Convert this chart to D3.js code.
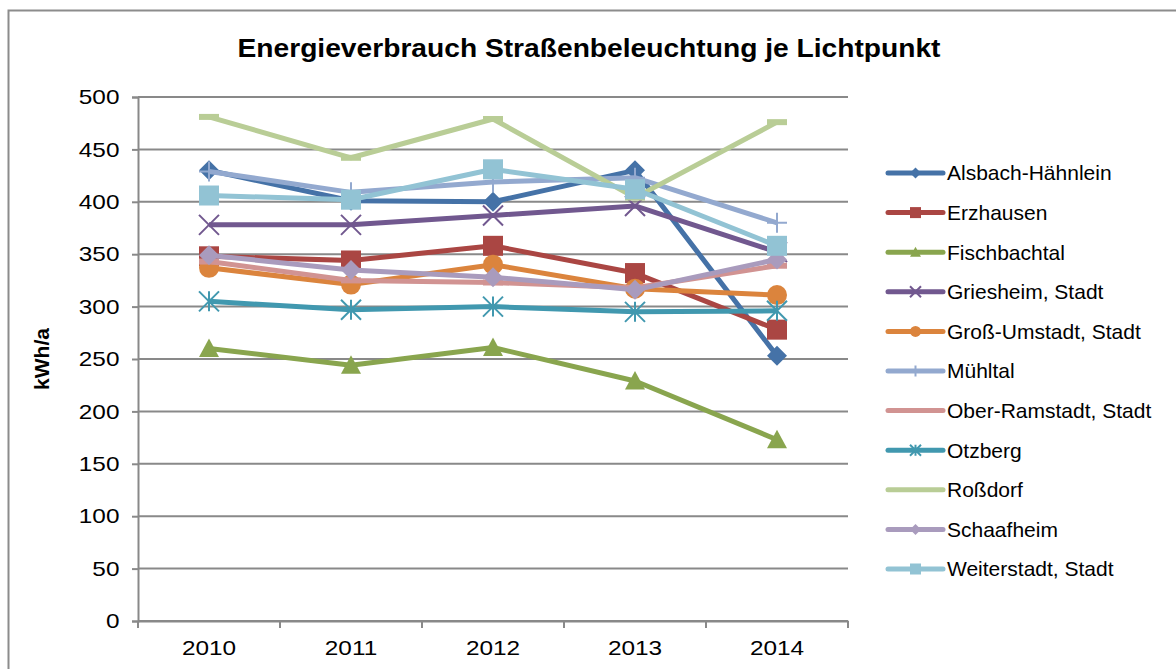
<!DOCTYPE html>
<meta charset="utf-8">
<style>
  body { margin: 0; background: #fff; }
  text { font-family: "Liberation Sans", Arial, sans-serif; fill: #000; }
</style>
<body>
<svg width="1176" height="669"></svg>
<script src="https://d3js.org/d3.v7.min.js"></script>
<script>

// the numbers
var years = ["2010", "2011", "2012", "2013", "2014"];
var names = ["Alsbach-Hähnlein", "Erzhausen", "Fischbachtal", "Griesheim, Stadt",
  "Groß-Umstadt, Stadt", "Mühltal", "Ober-Ramstadt, Stadt", "Otzberg", "Roßdorf",
  "Schaafheim", "Weiterstadt, Stadt"];
var alsbach     = [430, 401, 400, 430, 253];
var erzhausen   = [348, 344, 358, 332, 278];
var fischbach   = [260, 244, 261, 229, 173];
var griesheim   = [378, 378, 387, 396, 352];
var grossUmst   = [337, 321, 340, 317, 311];
var muehltal    = [429, 409, 419, 423, 380];
var oberRamst   = [343, 325, 323, 318, 339];
var otzberg     = [305, 297, 300, 295, 296];
var rossdorf    = [481, 442, 479, 404, 476];
var schaafheim  = [349, 335, 328, 316, 345];
var weiterstadt = [406, 402, 431, 412, 358];
var yTicks = [0, 50, 100, 150, 200, 250, 300, 350, 400, 450, 500];

var seriesValues = [alsbach, erzhausen, fischbach, griesheim, grossUmst, muehltal,
  oberRamst, otzberg, rossdorf, schaafheim, weiterstadt];
var colors = ["#4572a7", "#aa4643", "#89a54e", "#71588f", "#db843d", "#93a9cf",
  "#d19392", "#4198af", "#b9cd96", "#a99bbd", "#92c3d4"];
var markers = ["diamond", "square", "triangle", "x", "circle", "plus",
  "dash", "star", "dash", "diamond", "square"];

var svg = d3.select("svg");

// outer chart frame (runs off the right and bottom edge)
svg.append("rect")
  .attr("x", 8.5).attr("y", 10.5)
  .attr("width", 1200).attr("height", 700)
  .attr("fill", "none").attr("stroke", "#8c8c8c").attr("stroke-width", 2);

// plot box ("top" is taken by window.top, so other names)
var pLeft = 138, pRight = 848, pTop = 97, pBottom = 621;

var x = d3.scaleBand().domain(years).range([pLeft, pRight]);
var y = d3.scaleLinear().domain([0, 500]).range([pBottom, pTop]);

// gridlines
svg.append("g").selectAll("line")
  .data(yTicks)
  .join("line")
  .attr("x1", pLeft).attr("x2", pRight)
  .attr("y1", function(d) { return y(d); }).attr("y2", function(d) { return y(d); })
  .attr("stroke", "#898989").attr("stroke-width", 2);

// y axis
var yAxis = svg.append("g")
  .attr("transform", "translate(" + pLeft + ",0)")
  .call(d3.axisLeft(y).tickValues(yTicks).tickSize(6).tickPadding(10));
yAxis.select(".domain").attr("stroke", "#898989").attr("stroke-width", 2);
yAxis.selectAll(".tick line").attr("stroke", "#898989").attr("stroke-width", 2);
// the labels in the picture are a bit wide, so stretch them sideways
yAxis.selectAll("text").style("font-size", "21px").attr("font-family", null)
  .attr("transform", "scale(1.16,1)");

// x axis, ticks sit on the category borders
var xAxis = svg.append("g")
  .attr("transform", "translate(0," + pBottom + ")")
  .call(d3.axisBottom(x).tickSize(0).tickPadding(19));
xAxis.select(".domain").attr("stroke", "#898989").attr("stroke-width", 2);
xAxis.selectAll("text").style("font-size", "21px").attr("font-family", null)
  .attr("transform", "scale(1.16,1)");
xAxis.selectAll(".border")
  .data(years.concat([null]))
  .join("line")
  .attr("class", "border")
  .attr("x1", function(d, i) { return pLeft + i * x.step(); })
  .attr("x2", function(d, i) { return pLeft + i * x.step(); })
  .attr("y1", 0).attr("y2", 7)
  .attr("stroke", "#898989").attr("stroke-width", 2);

// title and axis title
svg.append("text")
  .attr("x", 589).attr("y", 57)
  .attr("text-anchor", "middle")
  .attr("textLength", 703).attr("lengthAdjust", "spacingAndGlyphs")
  .style("font-size", "25px").style("font-weight", "bold")
  .text("Energieverbrauch Straßenbeleuchtung je Lichtpunkt");

svg.append("text")
  .attr("transform", "translate(42," + (pTop + pBottom) / 2 + ") rotate(-90)")
  .attr("text-anchor", "middle")
  .attr("dy", "0.35em")
  .attr("textLength", 62).attr("lengthAdjust", "spacingAndGlyphs")
  .style("font-size", "21px").style("font-weight", "bold")
  .text("kWh/a");

// draws one marker centred on 0,0
function drawMarker(g, kind, color, s) {
  var h = s / 2;
  if (kind == "diamond") {
    g.append("path").attr("d", "M0," + (-h) + "L" + h + ",0L0," + h + "L" + (-h) + ",0Z").attr("fill", color);
  } else if (kind == "square") {
    g.append("rect").attr("x", -h).attr("y", -h).attr("width", s).attr("height", s).attr("fill", color);
  } else if (kind == "triangle") {
    g.append("path").attr("d", "M0," + (-h) + "L" + h + "," + (h * 0.85) + "L" + (-h) + "," + (h * 0.85) + "Z").attr("fill", color);
  } else if (kind == "circle") {
    g.append("circle").attr("r", h).attr("fill", color);
  } else if (kind == "x") {
    g.append("path").attr("d", "M" + (-h) + "," + (-h) + "L" + h + "," + h + "M" + (-h) + "," + h + "L" + h + "," + (-h))
      .attr("stroke", color).attr("stroke-width", 2).attr("fill", "none");
  } else if (kind == "plus") {
    g.append("path").attr("d", "M0," + (-h) + "V" + h + "M" + (-h) + ",0H" + h)
      .attr("stroke", color).attr("stroke-width", 2).attr("fill", "none");
  } else if (kind == "star") {
    g.append("path").attr("d", "M" + (-h) + "," + (-h) + "L" + h + "," + h + "M" + (-h) + "," + h + "L" + h + "," + (-h) + "M0," + (-h) + "V" + h)
      .attr("stroke", color).attr("stroke-width", 2).attr("fill", "none");
  } else if (kind == "dash") {
    g.append("rect").attr("x", -h).attr("y", -3).attr("width", s).attr("height", 6).attr("fill", color);
  }
}

var line = d3.line()
  .x(function(d, i) { return x(years[i]) + x.bandwidth() / 2; })
  .y(function(d) { return y(d); });

var plot = svg.append("g");
seriesValues.forEach(function(vals, k) {
  plot.append("path")
    .attr("d", line(vals))
    .attr("fill", "none")
    .attr("stroke", colors[k])
    .attr("stroke-width", 5)
    .attr("stroke-linejoin", "round");
  vals.forEach(function(v, i) {
    var g = plot.append("g")
      .attr("transform", "translate(" + (x(years[i]) + x.bandwidth() / 2) + "," + y(v) + ")");
    drawMarker(g, markers[k], colors[k], 20);
  });
});

// legend
var legend = svg.append("g");
names.forEach(function(n, k) {
  var cy = 173 + k * 39.6;
  legend.append("line")
    .attr("x1", 888).attr("x2", 943)
    .attr("y1", cy).attr("y2", cy)
    .attr("stroke", colors[k]).attr("stroke-width", 5)
    .attr("stroke-linecap", "round");
  var g = legend.append("g").attr("transform", "translate(915.5," + cy + ")");
  if (markers[k] != "dash") drawMarker(g, markers[k], colors[k], 11);
  legend.append("text")
    .attr("x", 947).attr("y", cy)
    .attr("dy", "0.35em")
    .style("font-size", "21px")
    .text(n);
});

</script>
</body>
